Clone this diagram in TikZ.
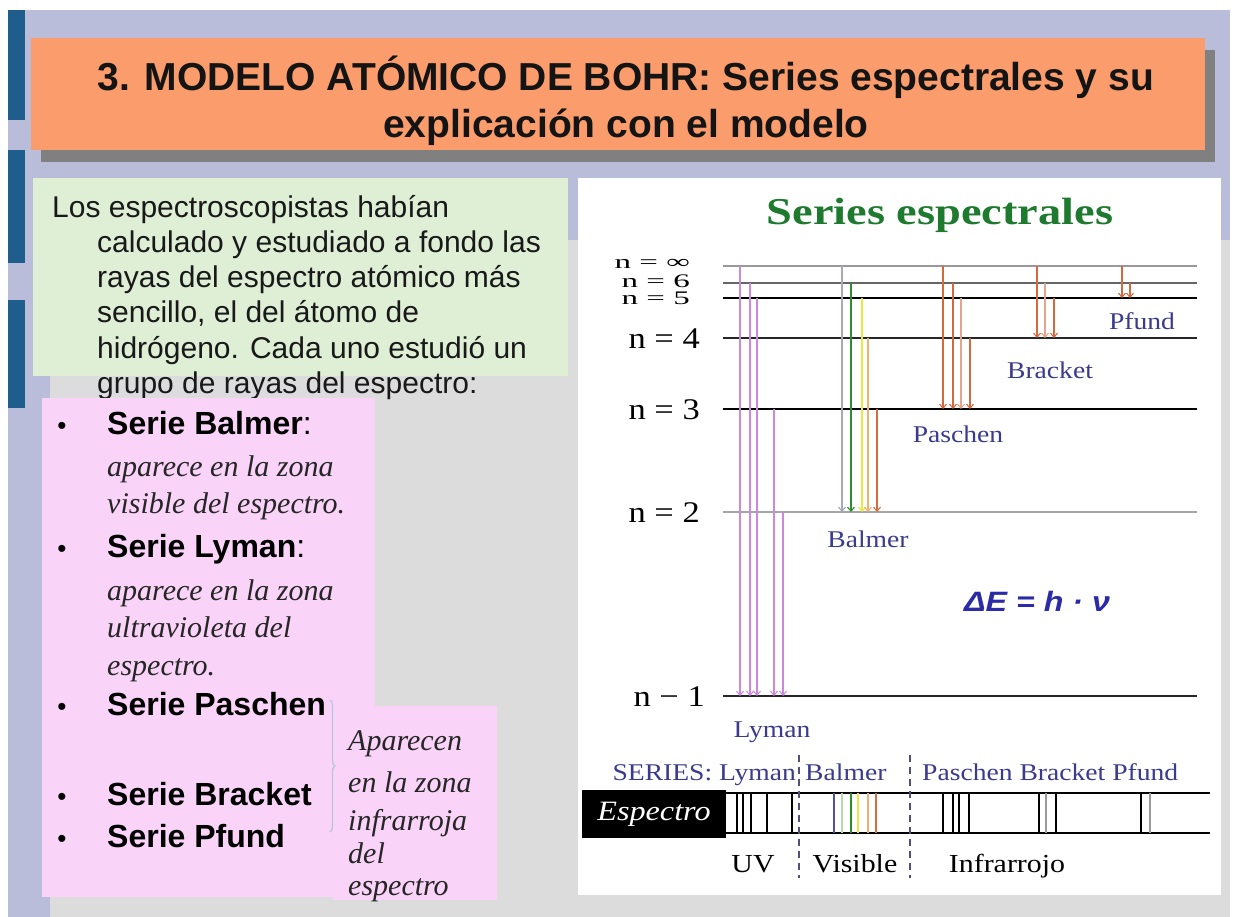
\documentclass[tikz,border=0pt]{standalone}
\usepackage{fontspec}
\setmainfont{Liberation Serif}
\setsansfont{Liberation Sans}
\usetikzlibrary{arrows.meta,decorations.pathreplacing}

\definecolor{slidebg}{HTML}{B9BDD9}
\definecolor{contentbg}{HTML}{DCDCDC}
\definecolor{barblue}{HTML}{1F5D8C}
\definecolor{titleorange}{HTML}{FA9C6B}
\definecolor{notegreen}{HTML}{DEEFD6}
\definecolor{notepink}{HTML}{FAD4F8}
\definecolor{headgreen}{HTML}{1E7A2E}
\definecolor{serieblue}{HTML}{3A3A8E}
\definecolor{deltablue}{HTML}{2B2BA8}
\definecolor{sepblue}{HTML}{50507A}
\definecolor{bracecol}{HTML}{B4C4DC}
\definecolor{lymanc}{HTML}{CC88DD}
\definecolor{balgray}{HTML}{A8A8B8}
\definecolor{balblue}{HTML}{5050A0}
\definecolor{balgreen}{HTML}{2E8B2E}
\definecolor{balpale}{HTML}{B8D8B0}
\definecolor{balyellow}{HTML}{E8E840}
\definecolor{balorange}{HTML}{F0B070}
\definecolor{balred}{HTML}{D86A40}
\definecolor{irred}{HTML}{D4683F}

\newcommand{\wide}[1]{\scalebox{1.15}[1]{#1}}
\newcommand{\squat}[1]{\scalebox{1.1}[0.64]{#1}}

\begin{document}
\begin{tikzpicture}[
    x=1pt, y=-1pt,
    every node/.style={inner sep=0pt},
    txtline/.style={text height=24pt, text depth=4pt},
    introtxt/.style={txtline, anchor=west,
      font=\sffamily\fontsize{30}{35}\selectfont, text=black!90},
    serietxt/.style={txtline, anchor=west,
      font=\sffamily\bfseries\fontsize{32}{36}\selectfont},
    desctxt/.style={txtline, anchor=west,
      font=\itshape\fontsize{30}{36}\selectfont, text=black!85},
    bullet/.style={anchor=base, font=\sffamily\fontsize{26}{28}\selectfont},
    lvltxt/.style={txtline, anchor=east, font=\fontsize{30}{32}\selectfont},
    toplvl/.style={anchor=east, text height=12pt, text depth=2pt,
      font=\fontsize{30}{32}\selectfont},
    serielbl/.style={txtline, font=\fontsize{24}{26}\selectfont, text=serieblue},
    zonetxt/.style={txtline, font=\fontsize{26}{28}\selectfont},
    lvl/.style={line width=1.4pt},
    trans/.style={line width=1.1pt, -{Straight Barb[length=4pt,width=7pt]}},
    specline/.style={line width=1.4pt},
    sepline/.style={line width=1.5pt, sepblue, dash pattern=on 7pt off 5pt}
  ]
  \useasboundingbox (0,0) rectangle (1234,917);
  \fill[white] (0,0) rectangle (1234,917);
  \fill[slidebg] (8,10) rectangle (1230,917);
  \fill[contentbg] (50,240) rectangle (1230,917);
  \foreach \a/\b in {10/120, 150/263, 300/408}
    \fill[barblue] (8,\a) rectangle (25,\b);

  \fill[black!50] (41,50) rectangle (1215,162);
  \fill[titleorange] (31,38) rectangle (1205,150);
  \node[align=center, font=\sffamily\bfseries\fontsize{39}{47}\selectfont, text=black!92]
    (title) at (626,101) {3. MODELO ATÓMICO DE BOHR: Series espectrales y su\\explicación con el modelo};

  \fill[notegreen] (33,178) rectangle (568,376);
  \foreach \t/\x/\y [count=\i] in {Los espectroscopistas habían/52/208,
      calculado y estudiado a fondo las/97/243, rayas del espectro atómico más/97/278,
      {sencillo, el del átomo de}/97/313, hidrógeno. Cada uno estudió un/97/348,
      grupo de rayas del espectro:/97/383}
    \node[introtxt] (intro\i) at (\x,\y) {\t};

  \fill[notepink] (42,398) rectangle (375,897);
  \fill[notepink] (333,706) rectangle (497,900);
  \foreach \t/\y [count=\i] in {Balmer\textmd{:}/424, Lyman\textmd{:}/547, Paschen/705,
      Bracket/795, Pfund/837} {
    \node[serietxt] (serie\i) at (107,\y) {Serie \t};
    \node[bullet] (dot\i) at (62,0 |- serie\i.base) {•};
  }
  \foreach \t/\y [count=\i] in {aparece en la zona/466, visible del espectro./503,
      aparece en la zona/590, ultravioleta del/627, espectro./665}
    \node[desctxt] (desc\i) at (107,\y) {\t};
  \draw[bracecol, line width=1.2pt, decorate, decoration={brace, amplitude=5pt}]
    (330,700) -- (330,832);
  \foreach \t/\y [count=\i] in {Aparecen/740, en la zona/782, infrarroja/820, del/853, espectro/885}
    \node[desctxt] (ir\i) at (348,\y) {\t};

  \fill[white] (578,178) rectangle (1221,895);
  \node[font=\bfseries\fontsize{38}{40}\selectfont, text=headgreen] (head) at (940,215)
    {\scalebox{1.22}[1]{Series espectrales}};

  \foreach \n/\y/\c in {inf/266/black!40, 6/283/black!60, 5/298/black, 4/338/black!85,
      3/409/black, 2/512/black!35, 1/696/black!85} {
    \coordinate (lv\n) at (723,\y);
    \draw[lvl, \c] (lv\n) -- ++(474,0);
  }
  \foreach \n/\t/\s in {inf/∞/2, 6/6/0, 5/5/-2}
    \node[toplvl] (nl\n) at ([xshift=-33pt, yshift=\s pt]lv\n) {\squat{n = \t}};
  \foreach \n/\t in {4/4, 3/3, 2/2}
    \node[lvltxt] (nl\n) at ([xshift=-23pt]lv\n) {\wide{n = \t}};
  \node[lvltxt] (nl1) at ([xshift=-18pt]lv1) {\wide{n − 1}};

  \foreach \x/\f/\t/\c in {740/inf/1/lymanc, 750/6/1/lymanc, 757/5/1/lymanc, 774/3/1/lymanc,
      783/2/1/lymanc, 842/inf/2/balgray, 851/6/2/balgreen, 862/5/2/balyellow,
      868/4/2/balorange, 877/3/2/balred, 943/inf/3/irred, 953/6/3/irred,
      961/5/3/irred!60, 970/4/3/irred, 1037/inf/4/irred, 1045/6/4/irred!60,
      1054/5/4/irred, 1122/inf/5/irred, 1130/6/5/irred}
    \draw[trans, \c] (\x,0 |- lv\f) -- (\x,0 |- lv\t);

  \node[serielbl] (pfund) at (1142,320) {\wide{Pfund}};
  \node[serielbl] (bracket) at (1050,368) {\wide{Bracket}};
  \node[serielbl] (paschen) at (958,432) {\wide{Paschen}};
  \node[serielbl] (balmer) at (868,537) {\wide{Balmer}};
  \node[serielbl] (lyman) at (772,727) {\wide{Lyman}};
  \node[font=\sffamily\bfseries\itshape\fontsize{28}{30}\selectfont, text=deltablue]
    (energy) at (1037,601) {\wide{ΔE = h · ν}};

  \node[serielbl, anchor=east] (serL) at (796,770) {\wide{SERIES: Lyman}};
  \node[serielbl, anchor=west] (serB) at (805,770) {\wide{Balmer}};
  \node[serielbl, anchor=west] (serR) at (922,770) {\wide{Paschen Bracket Pfund}};

  \node[fill=black, text=white, minimum width=144pt, minimum height=48pt,
    font=\itshape\fontsize{28}{30}\selectfont] (spectro) at (654,814) {\wide{Espectro}};
  \coordinate (bandtop) at (726,793);
  \coordinate (bandbot) at (726,833);
  \draw[specline] (bandtop) -- ++(484,0);
  \draw[specline] (bandbot) -- ++(484,0);
  \foreach \x/\c in {737/black, 743/black, 751/black, 767/black, 792/black,
      834/balblue, 842/balpale, 851/balgreen, 858/balyellow, 868/balorange, 876/balred,
      943/black, 953/black, 959/black, 969/black, 1039/black, 1046/black!40, 1056/black,
      1141/black, 1150/black!40}
    \draw[specline, \c] (\x,0 |- bandtop) -- (\x,0 |- bandbot);
  \coordinate (cutuv) at (799,755);
  \coordinate (cutvis) at (910,755);
  \draw[sepline] (cutuv) -- ++(0,123);
  \draw[sepline] (cutvis) -- ++(0,123);

  \node[zonetxt] (uv) at (753,862) {\wide{UV}};
  \node[zonetxt] (visible) at (855,862) {\wide{Visible}};
  \node[zonetxt] (infra) at (1007,862) {\wide{Infrarrojo}};
\end{tikzpicture}
\end{document}
